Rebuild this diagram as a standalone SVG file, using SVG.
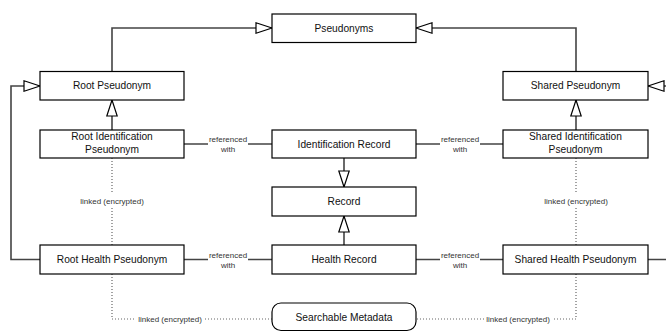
<svg xmlns="http://www.w3.org/2000/svg" width="666" height="332" viewBox="0 0 666 332">
  <style>
    .box { fill: #fff; stroke: #000; stroke-width: 1.2; }
    .lbl { font-family: "Liberation Sans", Arial, sans-serif; font-size: 10.2px; fill: #111; text-anchor: middle; }
    .small { font-family: "Liberation Sans", Arial, sans-serif; font-size: 8px; fill: #333; text-anchor: middle; }
    .solid { fill: none; stroke: #444; stroke-width: 1.6; }
    .dotted { fill: none; stroke: #666; stroke-width: 1.2; stroke-dasharray: 1 2; }
  </style>
  <defs>
    <marker id="inherit" viewBox="0 0 18 12" refX="17" refY="6" markerWidth="18" markerHeight="12" orient="auto" markerUnits="userSpaceOnUse">
      <path d="M1,0.8 L17,6 L1,11.2 Z" fill="#fff" stroke="#000" stroke-width="1.2"/>
    </marker>
  </defs>

  <rect width="666" height="332" fill="#fff"/>

  <!-- connectors -->
  <g id="connectors">
    <!-- generalisation to Pseudonyms -->
    <path class="solid" d="M112,71.5 V28 H272" marker-end="url(#inherit)"/>
    <path class="solid" d="M576,71.5 V28 H416" marker-end="url(#inherit)"/>
    <!-- identification pseudonyms to their parents -->
    <path class="solid" d="M112,130 V100" marker-end="url(#inherit)"/>
    <path class="solid" d="M576,130 V100" marker-end="url(#inherit)"/>
    <!-- health pseudonyms to their parents -->
    <path class="solid" d="M40,259.5 H11 V86 H40" marker-end="url(#inherit)"/>
    <path class="solid" d="M648,259.5 H677 V86 H648" marker-end="url(#inherit)"/>
    <!-- records to Record -->
    <path class="solid" d="M344,158 V187" marker-end="url(#inherit)"/>
    <path class="solid" d="M344,245 V216" marker-end="url(#inherit)"/>

    <!-- referenced with -->
    <path class="solid" d="M184,144 H208 M248,144 H272"/>
    <text class="small" x="228" y="142">referenced</text>
    <text class="small" x="228" y="152">with</text>
    <path class="solid" d="M416,144 H440 M480,144 H503"/>
    <text class="small" x="460" y="142">referenced</text>
    <text class="small" x="460" y="152">with</text>
    <path class="solid" d="M184,259.5 H208 M248,259.5 H272"/>
    <text class="small" x="228" y="257.5">referenced</text>
    <text class="small" x="228" y="267.5">with</text>
    <path class="solid" d="M416,259.5 H440 M480,259.5 H503"/>
    <text class="small" x="460" y="257.5">referenced</text>
    <text class="small" x="460" y="267.5">with</text>

    <!-- linked (encrypted) -->
    <path class="dotted" d="M112,158 V194 M112,208 V245"/>
    <text class="small" x="112" y="204">linked (encrypted)</text>
    <path class="dotted" d="M576,158 V194 M576,208 V245"/>
    <text class="small" x="576" y="204">linked (encrypted)</text>
    <path class="dotted" d="M112,274 V319 H135 M205,319 H272"/>
    <text class="small" x="170" y="322">linked (encrypted)</text>
    <path class="dotted" d="M576,274 V319 H552 M484,319 H416"/>
    <text class="small" x="518" y="322">linked (encrypted)</text>
  </g>

  <!-- nodes -->
  <g id="pseudonyms">
    <rect class="box" x="272" y="14" width="144" height="28.5"/>
    <text class="lbl" x="344" y="31.8">Pseudonyms</text>
  </g>
  <g id="root-pseudonym">
    <rect class="box" x="40" y="71.5" width="144" height="28.5"/>
    <text class="lbl" x="112" y="89.3">Root Pseudonym</text>
  </g>
  <g id="shared-pseudonym">
    <rect class="box" x="503" y="71.5" width="145" height="28.5"/>
    <text class="lbl" x="575.5" y="89.3">Shared Pseudonym</text>
  </g>
  <g id="root-identification-pseudonym">
    <rect class="box" x="40" y="130" width="144" height="28"/>
    <text class="lbl" x="112" y="140.3">Root Identification</text>
    <text class="lbl" x="112" y="153">Pseudonym</text>
  </g>
  <g id="identification-record">
    <rect class="box" x="272" y="130" width="144" height="28"/>
    <text class="lbl" x="344" y="147.6">Identification Record</text>
  </g>
  <g id="shared-identification-pseudonym">
    <rect class="box" x="503" y="130" width="145" height="28"/>
    <text class="lbl" x="575.5" y="140.3">Shared Identification</text>
    <text class="lbl" x="575.5" y="153">Pseudonym</text>
  </g>
  <g id="record">
    <rect class="box" x="272" y="187" width="144" height="29"/>
    <text class="lbl" x="344" y="205">Record</text>
  </g>
  <g id="root-health-pseudonym">
    <rect class="box" x="40" y="245" width="144" height="29"/>
    <text class="lbl" x="112" y="263">Root Health Pseudonym</text>
  </g>
  <g id="health-record">
    <rect class="box" x="272" y="245" width="144" height="29"/>
    <text class="lbl" x="344" y="263">Health Record</text>
  </g>
  <g id="shared-health-pseudonym">
    <rect class="box" x="503" y="245" width="145" height="29"/>
    <text class="lbl" x="575.5" y="263">Shared Health Pseudonym</text>
  </g>
  <g id="searchable-metadata">
    <rect class="box" x="272" y="303" width="144" height="27.5" rx="9" ry="9"/>
    <text class="lbl" x="344" y="320.5">Searchable Metadata</text>
  </g>
</svg>
